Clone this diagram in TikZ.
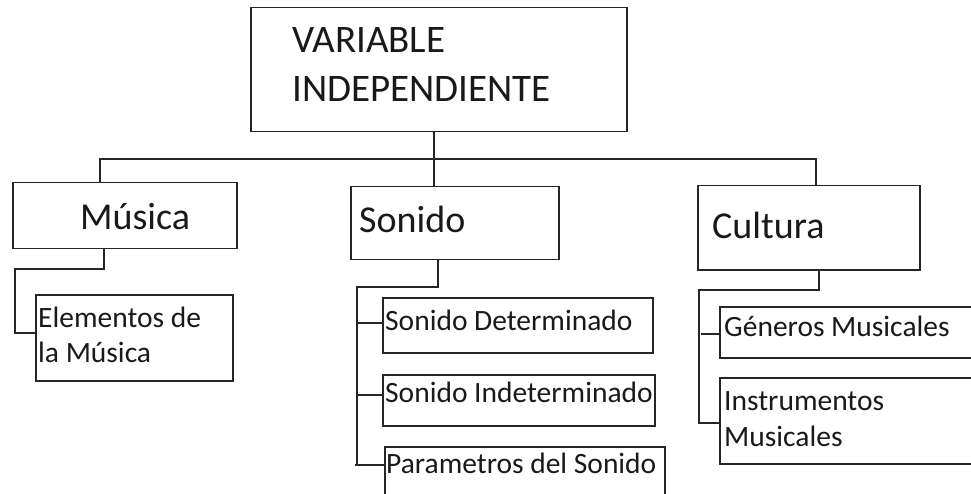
\documentclass[tikz,border=0pt]{standalone}
\usepackage{fontspec}
\setmainfont{Carlito}
\begin{document}
\begin{tikzpicture}[x=1pt,y=-1pt,
  box/.style={draw=black!85, line width=1.5pt, inner sep=0pt, anchor=north west},
  conn/.style={draw=black!85, line width=1.3pt},
  ttxt/.style={anchor=base west, inner sep=0pt, font=\fontsize{39}{47}\selectfont, text=black!90},
  atxt/.style={anchor=base west, inner sep=0pt, font=\fontsize{38}{46}\selectfont, text=black!90},
  btxt/.style={anchor=base west, inner sep=0pt, font=\fontsize{29.5}{36}\selectfont, text=black!90}]
\useasboundingbox (0,0) rectangle (971,494);
\clip (0,0) rectangle (971,494);
% boxes
\node[box, minimum width=376pt, minimum height=124pt] (top) at (250,7) {};
\node[box, minimum width=224pt, minimum height=66pt] (mus) at (12,182) {};
\node[box, minimum width=208pt, minimum height=73pt] (son) at (350,186) {};
\node[box, minimum width=222pt, minimum height=84pt] (cul) at (697,185) {};
\node[box, minimum width=197pt, minimum height=86pt] (ele) at (35,294) {};
\node[box, minimum width=270pt, minimum height=55pt] (sd) at (382,297) {};
\node[box, minimum width=272pt, minimum height=51pt] (si) at (382,374) {};
\node[box, minimum width=280pt, minimum height=80pt] (pa) at (384,446) {};
\node[box, minimum width=270pt, minimum height=51pt] (gen) at (719,306) {};
\node[box, minimum width=270pt, minimum height=86pt] (ins) at (719,377) {};
% texts
\node[ttxt] (t1) at (292,53) {VARIABLE};
\node[ttxt] (t2) at (292,102) {INDEPENDIENTE};
\node[atxt] (tm) at (80,230) {Música};
\node[atxt] (ts) at (359,233) {Sonido};
\node[atxt] (tc) at (712,239) {Cultura};
\node[btxt] (te1) at (38,327) {Elementos de};
\node[btxt] (te2) at (38,362) {la Música};
\node[btxt] (tsd) at (385,330) {Sonido Determinado};
\node[btxt] (tsi) at (385,402) {Sonido Indeterminado};
\node[btxt] (tpa) at (386,473) {Parametros del Sonido};
\node[btxt] (tg) at (724,336) {Géneros Musicales};
\node[btxt] (ti1) at (724,410) {Instrumentos};
\node[btxt] (ti2) at (724,446) {Musicales};
% connector coordinates
\coordinate (j0) at (434,159);
\coordinate (busL) at (100,159);
\coordinate (busR) at (816,159);
\coordinate (m1) at (104,269);
\coordinate (m2) at (15,269);
\coordinate (m3) at (15,333);
\coordinate (s1) at (438,287);
\coordinate (s2) at (357,287);
\coordinate (s3) at (357,465);
\coordinate (s4) at (355,465);
\coordinate (sa) at (357,323);
\coordinate (sb) at (357,395);
\coordinate (c1) at (819,290);
\coordinate (c2) at (699,290);
\coordinate (c3) at (699,423);
\coordinate (ca) at (701,334);
% connectors
\draw[conn] (j0 |- top.south) -- (j0 |- son.north);
\draw[conn] (busL |- mus.north) -- (busL) -- (busR) -- (busR |- cul.north);
\draw[conn] (m1 |- mus.south) -- (m1) -- (m2) -- (m3) -- (m3 -| ele.west);
\draw[conn] (s1 |- son.south) -- (s1) -- (s2) -- (s3);
\draw[conn] (s4) -- (s4 -| pa.west);
\draw[conn] (sa) -- (sa -| sd.west);
\draw[conn] (sb) -- (sb -| si.west);
\draw[conn] (c1 |- cul.south) -- (c1) -- (c2) -- (c3) -- (c3 -| ins.west);
\draw[conn] (ca) -- (ca -| gen.west);
\end{tikzpicture}
\end{document}
